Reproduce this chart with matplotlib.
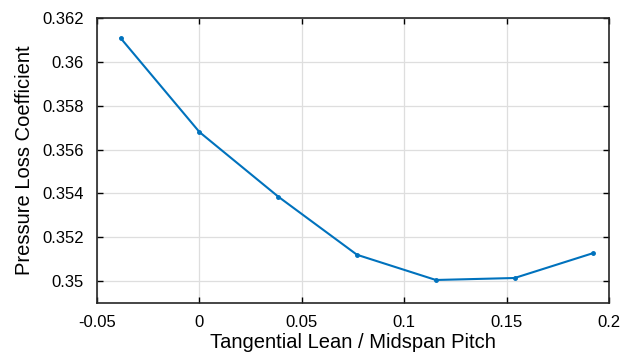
import matplotlib
matplotlib.use("Agg")
import matplotlib.pyplot as plt

# tangential lean values and pressure loss
lean = [-0.0385, 0.0, 0.0385, 0.0769, 0.1154, 0.1538, 0.1923]
loss = [0.36109, 0.35680, 0.35385, 0.35120, 0.35005, 0.35014, 0.35128]

x_ticks = [-0.05, 0, 0.05, 0.1, 0.15, 0.2]
x_labels = ["-0.05", "0", "0.05", "0.1", "0.15", "0.2"]
y_ticks = [0.35, 0.352, 0.354, 0.356, 0.358, 0.36, 0.362]
y_labels = ["0.35", "0.352", "0.354", "0.356", "0.358", "0.36", "0.362"]

plt.rcParams['font.family'] = ['Liberation Sans', 'DejaVu Sans']

fig = plt.figure(figsize=(6.3, 3.55), dpi=100)
ax = fig.add_axes([0.154, 0.1465, 0.813, 0.8025])

ax.plot(lean, loss, color='#0072BD', linewidth=1.5, marker='o', markersize=2.5)

ax.set_xlim(-0.05, 0.2)
ax.set_ylim(0.349, 0.362)
ax.set_xticks(x_ticks)
ax.set_xticklabels(x_labels)
ax.set_yticks(y_ticks)
ax.set_yticklabels(y_labels)

ax.grid(True, color='#dedede', linewidth=0.9)
ax.set_axisbelow(True)
ax.tick_params(direction='in', top=True, right=True, length=4, width=1, labelsize=12)
ax.tick_params(axis='x', pad=9)
ax.tick_params(axis='y', pad=9.5)
for s in ax.spines.values():
    s.set_linewidth(1.2)
    s.set_color('#262626')

ax.set_xlabel('Tangential Lean / Midspan Pitch', fontsize=14.5, labelpad=2)
ax.set_ylabel('Pressure Loss Coefficient', fontsize=14.5, labelpad=6)

fig.savefig('out.png', dpi=100)
